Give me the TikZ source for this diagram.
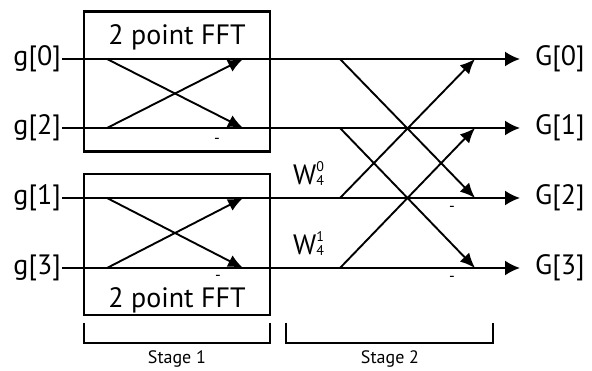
\documentclass[tikz,border=0pt]{standalone}
\usepackage{fontspec}
\setmainfont{PT Sans}
\usetikzlibrary{arrows.meta}
\newcommand{\twid}[1]{W{\fontsize{14}{14}\selectfont\makebox[0pt][l]{\raisebox{13pt}{#1}}\raisebox{-1pt}{4}}}

\begin{document}
\begin{tikzpicture}[x=1pt,y=-1pt,
        wire/.style={line width=2pt},
        bfly/.style={line width=1.9pt,-{Latex[length=15pt,width=13pt]}},
        outarr/.style={line width=2pt,shorten >=15pt,-{Latex[length=15pt,width=15pt]}},
        fftbox/.style={draw,line width=2.6pt,minimum width=186pt,minimum height=140pt,inner sep=0pt},
        biglab/.style={inner sep=0pt,font=\fontsize{28}{30}\selectfont},
        minus/.style={inner sep=0pt,font=\fontsize{16}{16}\selectfont},
        stagelab/.style={anchor=base,inner sep=0pt,font=\fontsize{18}{18}\selectfont}]
        \useasboundingbox (0,0) rectangle (592,371);
        \node[fftbox] (fft1) at (177,81.5) {};
        \node[fftbox,minimum height=141pt] (fft2) at (177,244.5) {};
        \node[biglab,anchor=base] (name1) at (177,45) {2 point FFT};
        \node[biglab,anchor=base] (name2) at (177,308) {2 point FFT};
        \foreach \row/\yy/\idx in {0/59/0,1/128/2,2/198/1,3/268/3} {
            \node[biglab,anchor=east,inner sep=1pt] (g\row) at (62,\yy) {g[\idx]};
            \node[biglab,anchor=west] (G\row) at (535,\yy) {G[\row]};
            \coordinate (a\row) at (107,\yy);
            \coordinate (b\row) at (243,\yy);
            \coordinate (c\row) at (340,\yy);
            \coordinate (d\row) at (475,\yy);
            \draw[outarr] (g\row) -- (G\row);
        }
        \foreach \up/\dn in {0/1,2/3} {
            \draw[bfly] (a\up) -- (b\dn);
            \draw[bfly] (a\dn) -- (b\up);
        }
        \foreach \up/\dn in {0/2,1/3} {
            \draw[bfly] (c\up) -- (d\dn);
            \draw[bfly] (c\dn) -- (d\up);
        }
        \node[biglab,anchor=base west] (w0) at (293,185) {\twid{0}};
        \node[biglab,anchor=base west] (w1) at (293,255) {\twid{1}};
        \node[minus] (m1) at (217,141) {-};
        \node[minus] (m2) at (218,278) {-};
        \node[minus] (m3) at (452,209) {-};
        \node[minus] (m4) at (452,279) {-};
        \draw[wire] (84,323) |- (270,343) -- (270,323);
        \draw[wire] (286,323) |- (493,343) -- (493,323);
        \node[stagelab] (st1) at (177,364) {Stage 1};
        \node[stagelab] (st2) at (390,364) {Stage 2};
    \end{tikzpicture}
\end{document}
